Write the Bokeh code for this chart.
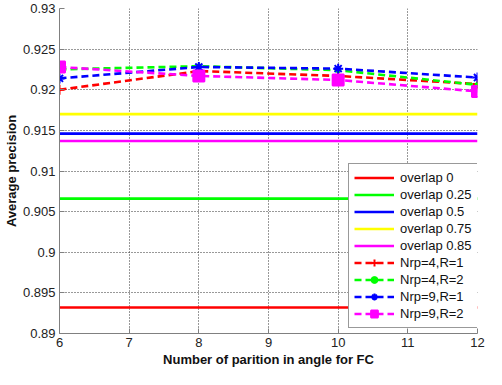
from bokeh.plotting import figure
from bokeh.models import FixedTicker, Range1d
from bokeh.embed import file_html
from bokeh.resources import INLINE

# ---- data ----
x_parts = [6, 8, 10, 12]
overlap_labels = ["overlap 0", "overlap 0.25", "overlap 0.5", "overlap 0.75", "overlap 0.85"]
overlap_values = [0.8932, 0.9066, 0.9146, 0.9170, 0.9137]
overlap_colors = ["#FF0000", "#00FF00", "#0000FF", "#FFFF00", "#FF00FF"]

series_labels = ["Nrp=4,R=1", "Nrp=4,R=2", "Nrp=9,R=1", "Nrp=9,R=2"]
nrp4_r1 = [0.9200, 0.9223, 0.9217, 0.9207]
nrp4_r2 = [0.9225, 0.9229, 0.9224, 0.9206]
nrp9_r1 = [0.9214, 0.9228, 0.9226, 0.9215]
nrp9_r2 = [0.9228, 0.9217, 0.9212, 0.9198]
series_values = [nrp4_r1, nrp4_r2, nrp9_r1, nrp9_r2]
series_colors = ["#FF0000", "#00FF00", "#0000FF", "#FF00FF"]
series_markers = ["cross", "circle", "asterisk", "square"]
series_msizes = [10, 5, 10, 11]
series_mwidths = [2, 1, 2, 2]

x_ticks = [6, 7, 8, 9, 10, 11, 12]
y_ticks = [0.89, 0.895, 0.9, 0.905, 0.91, 0.915, 0.92, 0.925, 0.93]
y_tick_labels = ["0.89", "0.895", "0.9", "0.905", "0.91", "0.915", "0.92", "0.925", "0.93"]

FONT = "Liberation Sans"

p = figure(width=486, height=369, output_backend="svg", toolbar_location=None,
           x_range=Range1d(6, 12), y_range=Range1d(0.89, 0.93),
           min_border_left=0, min_border_right=9, min_border_top=8, min_border_bottom=0)
p.outline_line_color = None
p.background_fill_color = "white"
p.border_fill_color = "white"

for lab, val, col in zip(overlap_labels, overlap_values, overlap_colors):
    p.line([x_parts[0], x_parts[-1]], [val, val], line_color=col, line_width=2.6,
           legend_label=lab)

for lab, vals, col, mk, ms, mw in zip(series_labels, series_values, series_colors,
                                      series_markers, series_msizes, series_mwidths):
    p.line(x_parts, vals, line_color=col, line_width=2.6, line_dash="7 4",
           legend_label=lab)
    p.scatter(x_parts, vals, marker=mk, size=ms, line_color=col, fill_color=col,
              line_width=mw, legend_label=lab)

# axes
for ax in (p.xaxis[0], p.yaxis[0]):
    ax.axis_line_color = "#808080"
    ax.major_tick_line_color = "#808080"
    ax.major_tick_in = 5
    ax.major_tick_out = 0
    ax.minor_tick_line_color = None
    ax.major_label_text_font = FONT
    ax.major_label_text_font_size = "13px"
    ax.major_label_text_color = "#222222"
    ax.axis_label_text_font = FONT
    ax.axis_label_text_font_size = "13px"
    ax.axis_label_text_font_style = "bold"
    ax.axis_label_text_color = "#111111"

p.xaxis.ticker = FixedTicker(ticks=x_ticks)
p.yaxis.ticker = FixedTicker(ticks=y_ticks)
p.yaxis.major_label_overrides = {t: l for t, l in zip(y_ticks, y_tick_labels)}
p.xaxis.axis_label = "Number of parition in angle for FC"
p.yaxis.axis_label = "Average precision"
p.xaxis.major_label_standoff = 4
p.yaxis.major_label_standoff = 4
p.xaxis.axis_label_standoff = 2
p.yaxis.axis_label_standoff = 1

# grid
for g in (p.xgrid[0], p.ygrid[0]):
    g.grid_line_color = "#333333"
    g.grid_line_dash = "1 2"
    g.grid_line_width = 1

# legend
lg = p.legend[0]
lg.location = (289, 5)
lg.label_text_font = FONT
lg.label_text_font_size = "13px"
lg.label_text_color = "#111111"
lg.glyph_width = 40
lg.glyph_height = 17
lg.label_height = 17
lg.label_standoff = 6
lg.spacing = 0
lg.padding = 5
lg.margin = 0
lg.border_line_color = "#333333"
lg.border_line_width = 1
lg.background_fill_color = "white"
lg.background_fill_alpha = 1

open("out.html", "w").write(file_html(p, INLINE))
